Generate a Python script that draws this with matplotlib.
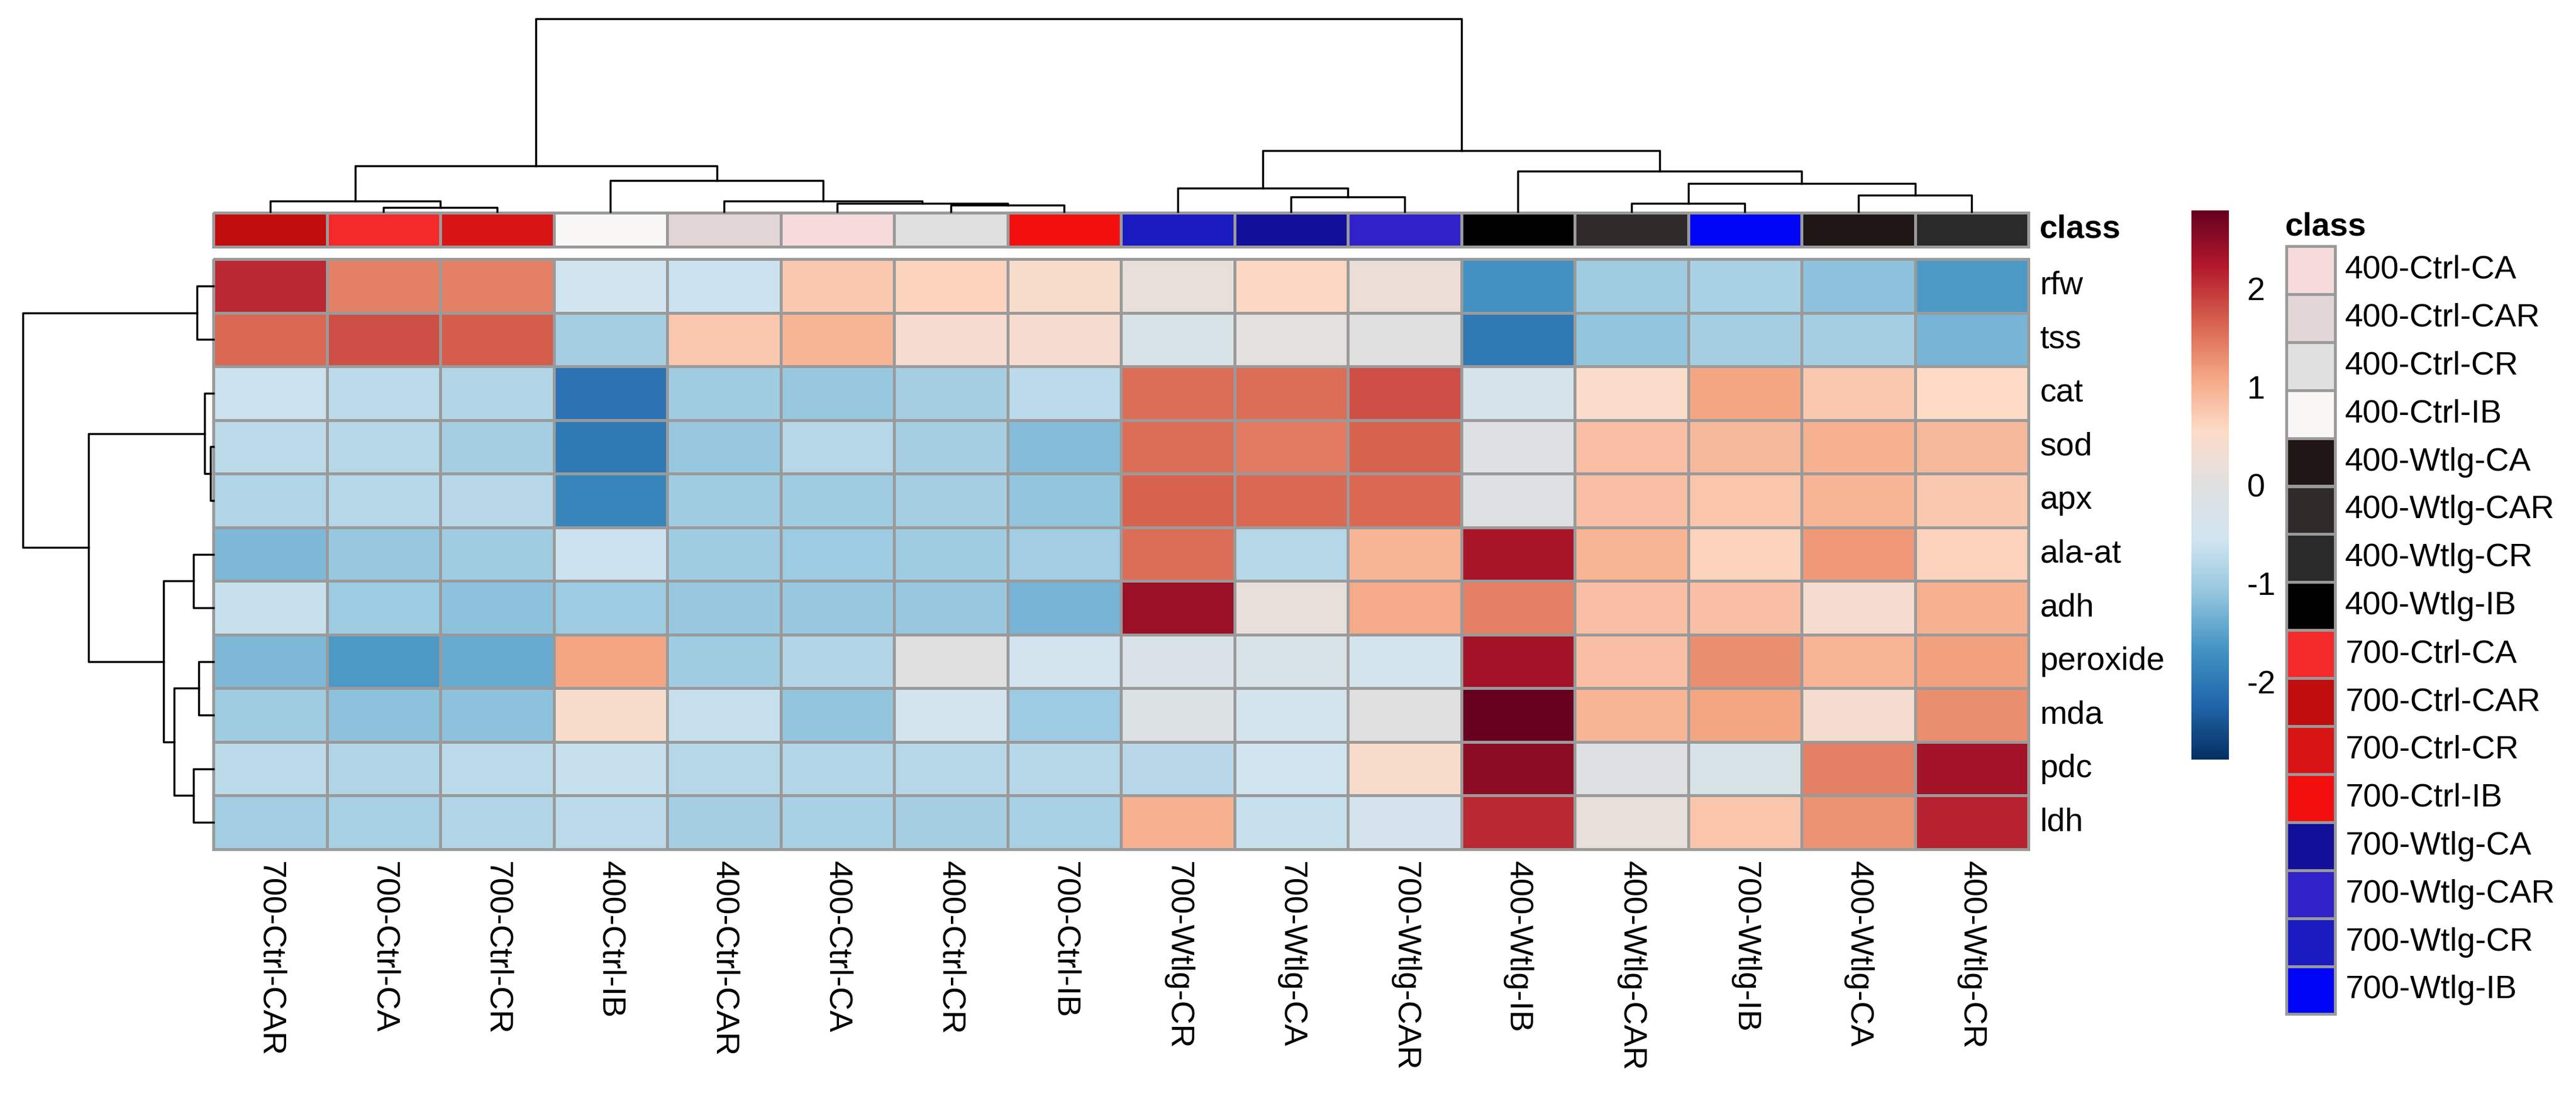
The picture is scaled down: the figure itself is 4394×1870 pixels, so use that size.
import matplotlib.pyplot as plt
import numpy as np
from matplotlib.colors import LinearSegmentedColormap, ListedColormap
from matplotlib.patches import Rectangle

plt.rcParams['font.family'] = ['Liberation Sans', 'DejaVu Sans']
plt.rcParams['axes.unicode_minus'] = False

W, H = 4394, 1870

rows = ["rfw", "tss", "cat", "sod", "apx", "ala-at", "adh", "peroxide", "mda", "pdc", "ldh"]
cols = ["700-Ctrl-CAR", "700-Ctrl-CA", "700-Ctrl-CR", "400-Ctrl-IB", "400-Ctrl-CAR",
        "400-Ctrl-CA", "400-Ctrl-CR", "700-Ctrl-IB", "700-Wtlg-CR", "700-Wtlg-CA",
        "700-Wtlg-CAR", "400-Wtlg-IB", "400-Wtlg-CAR", "700-Wtlg-IB", "400-Wtlg-CA",
        "400-Wtlg-CR"]

# z-scores, one list per row (column order as above)
rfw      = [2.1, 1.4, 1.4, -0.55, -0.6, 0.75, 0.65, 0.45, 0.15, 0.6, 0.2, -1.7, -1.0, -0.9, -1.15, -1.6]
tss      = [1.6, 1.8, 1.7, -0.95, 0.75, 0.95, 0.4, 0.4, -0.3, 0.05, 0.0, -2.0, -1.1, -0.95, -0.95, -1.3]
cat      = [-0.6, -0.75, -0.85, -2.05, -1.0, -1.05, -0.95, -0.75, 1.55, 1.55, 1.8, -0.35, 0.5, 1.1, 0.75, 0.55]
sod      = [-0.75, -0.8, -0.95, -2.0, -1.05, -0.8, -0.95, -1.2, 1.55, 1.45, 1.65, -0.1, 0.85, 0.9, 1.0, 0.9]
apx      = [-0.85, -0.8, -0.78, -1.85, -1.0, -1.0, -0.95, -1.1, 1.65, 1.6, 1.6, -0.1, 0.85, 0.78, 0.95, 0.75]
ala_at   = [-1.25, -1.05, -1.0, -0.6, -1.0, -1.02, -1.0, -0.97, 1.55, -0.8, 0.95, 2.3, 0.95, 0.65, 1.2, 0.65]
adh      = [-0.65, -1.02, -1.15, -1.02, -1.05, -1.05, -1.05, -1.3, 2.4, 0.15, 1.05, 1.4, 0.85, 0.85, 0.4, 1.0]
peroxide = [-1.25, -1.6, -1.4, 1.1, -1.0, -0.85, 0.0, -0.5, -0.25, -0.3, -0.45, 2.35, 0.85, 1.3, 0.95, 1.15]
mda      = [-1.0, -1.15, -1.15, 0.45, -0.65, -1.1, -0.48, -1.02, -0.15, -0.48, -0.02, 2.79, 0.95, 1.1, 0.4, 1.3]
pdc      = [-0.75, -0.85, -0.75, -0.65, -0.8, -0.82, -0.8, -0.8, -0.78, -0.55, 0.45, 2.5, -0.05, -0.3, 1.4, 2.35]
ldh      = [-0.97, -0.93, -0.85, -0.75, -0.95, -0.9, -0.95, -0.93, 1.0, -0.65, -0.42, 2.1, 0.15, 0.78, 1.25, 2.15]

# dendrogram merges: (left node, right node, height); new nodes numbered after leaves
col_merges = [(1, 2, 20), (0, 16, 53), (6, 7, 33), (5, 18, 43), (4, 19, 53),
              (3, 20, 158), (17, 21, 233), (9, 10, 75), (8, 23, 121), (12, 13, 43),
              (14, 15, 83), (25, 26, 143), (11, 27, 208), (24, 28, 313), (22, 29, 986)]
row_merges = [(0, 1, 23), (3, 4, 4), (2, 12, 12), (5, 6, 28), (7, 8, 21),
              (9, 10, 28), (15, 16, 55), (14, 17, 70), (13, 18, 176), (11, 19, 268)]

class_names = ["400-Ctrl-CA", "400-Ctrl-CAR", "400-Ctrl-CR", "400-Ctrl-IB",
               "400-Wtlg-CA", "400-Wtlg-CAR", "400-Wtlg-CR", "400-Wtlg-IB",
               "700-Ctrl-CA", "700-Ctrl-CAR", "700-Ctrl-CR", "700-Ctrl-IB",
               "700-Wtlg-CA", "700-Wtlg-CAR", "700-Wtlg-CR", "700-Wtlg-IB"]
class_colors = ["#F7DADC", "#E3D6D6", "#E0E0E0", "#F8F7F5",
                "#1F1616", "#302A2A", "#2A2A2A", "#000000",
                "#F42A2A", "#C10D0D", "#D91414", "#F40F0F",
                "#12109A", "#3022C8", "#1A1BC1", "#0005F5"]

values = np.array([rfw, tss, cat, sod, apx, ala_at, adh, peroxide, mda, pdc, ldh])
vlim = 2.79
cmap = LinearSegmentedColormap.from_list(
    "rdbu_grey", ["#053061", "#2166AC", "#4393C3", "#92C5DE", "#D1E5F0", "#E0E0E0",
                  "#FDDBC7", "#F4A582", "#D6604D", "#B2182B", "#67001F"])
border = "#9A9A9A"
fs = 40


def box(x0, y0, x1, y1):
    return [x0 / W, 1 - y1 / H, (x1 - x0) / W, (y1 - y0) / H]


def dendro(merges, n):
    pos = {i: i + 0.5 for i in range(n)}
    hgt = {i: 0.0 for i in range(n)}
    out = []
    for k, (a, b, h) in enumerate(merges):
        out.append(([pos[a], pos[a], pos[b], pos[b]], [hgt[a], h, h, hgt[b]]))
        pos[n + k] = (pos[a] + pos[b]) / 2
        hgt[n + k] = h
    return out


fig = plt.figure(figsize=(W / 100, H / 100), dpi=100)

# heatmap
ax = fig.add_axes(box(364, 442, 3460, 1449))
mesh = ax.pcolormesh(values, cmap=cmap, vmin=-vlim, vmax=vlim,
                     edgecolors=border, linewidth=3.5)
mesh.set_clip_on(False)
ax.set_xlim(0, len(cols))
ax.set_ylim(len(rows), 0)
ax.axis("off")
for i, r in enumerate(rows):
    ax.text(len(cols) + 0.1, i + 0.5, r, fontsize=fs, va="center", ha="left")
for j, c in enumerate(cols):
    ax.text(j + 0.5, len(rows) + 0.22, c, fontsize=fs, rotation=270,
            va="top", ha="center")

# class annotation bar
cls_idx = np.array([[class_names.index(c) for c in cols]])
axc = fig.add_axes(box(364, 363, 3460, 421))
bar = axc.pcolormesh(cls_idx, cmap=ListedColormap(class_colors), vmin=-0.5,
                     vmax=len(class_names) - 0.5, edgecolors=border, linewidth=3.5)
bar.set_clip_on(False)
axc.set_xlim(0, len(cols))
axc.set_ylim(1, 0)
axc.axis("off")
axc.text(len(cols) + 0.1, 0.5, "class", fontsize=fs, fontweight="bold",
         va="center", ha="left")

# column dendrogram
axt = fig.add_axes(box(364, 32, 3460, 361))
for xs, ys in dendro(col_merges, len(cols)):
    axt.plot(xs, ys, color="black", lw=2.5, clip_on=False)
axt.set_xlim(0, len(cols))
axt.set_ylim(0, col_merges[-1][2])
axt.axis("off")

# row dendrogram
axl = fig.add_axes(box(39, 442, 364, 1449))
for ys, xs in dendro(row_merges, len(rows)):
    axl.plot(xs, ys, color="black", lw=2.5, clip_on=False)
axl.set_xlim(row_merges[-1][2], 0)
axl.set_ylim(len(rows), 0)
axl.axis("off")

# colour bar
cax = fig.add_axes(box(3738, 359, 3802, 1296))
cb = fig.colorbar(mesh, cax=cax, ticks=[-2, -1, 0, 1, 2])
cb.outline.set_visible(False)
cax.tick_params(length=0, labelsize=fs, pad=22)

# class legend
axg = fig.add_axes([0, 0, 1, 1])
axg.set_xlim(0, W)
axg.set_ylim(H, 0)
axg.axis("off")
axg.text(3898, 402, "class", fontsize=fs, fontweight="bold", ha="left", va="baseline")
step = 81.9
for k, (name, col) in enumerate(zip(class_names, class_colors)):
    y0 = 420 + k * step
    axg.add_patch(Rectangle((3900, y0), 83, step, facecolor=col,
                            edgecolor=border, linewidth=3.5))
    axg.text(4000, y0 + step / 2, name, fontsize=fs, va="center", ha="left")

fig.savefig("out.png", dpi=100, facecolor="white")
